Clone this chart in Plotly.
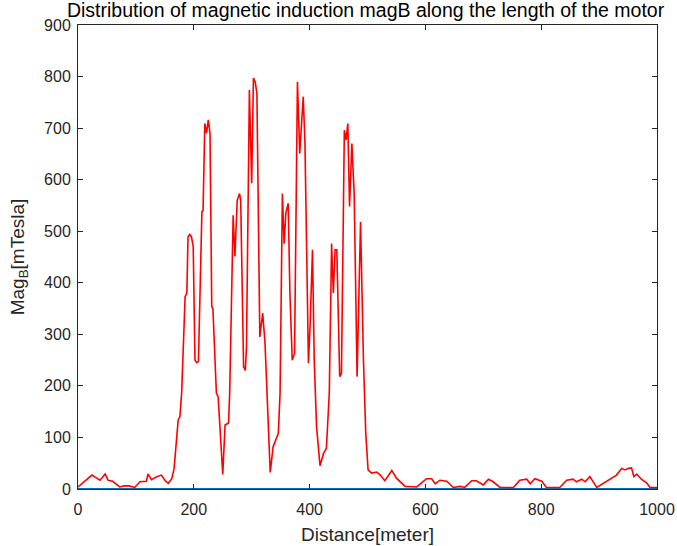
import plotly.graph_objects as go

# Red series: magnetic induction magnitude along the motor
distance = [0, 8, 16, 24, 31, 38, 47, 52, 60, 66, 72, 80, 88, 98, 107, 118, 121, 127, 136, 144,
            150, 156, 162, 166, 170, 173, 176, 179, 185, 188, 190, 193, 196, 199, 202, 205, 208,
            214, 216, 219, 222, 225, 228, 231, 233, 239, 242, 250, 254, 260, 262, 268, 271, 275,
            279, 281, 286, 289, 291, 296, 300, 303, 306, 309, 314, 319, 323, 328, 332, 337, 346,
            349, 353, 356, 359, 363, 366, 370, 374, 379, 383, 389, 392, 398, 401, 405, 408, 412,
            418, 424, 429, 434, 438, 441, 444, 447, 452, 455, 460, 463, 466, 469, 473, 477, 482,
            488, 493, 497, 501, 507, 516, 522, 530, 542, 550, 565, 585, 602, 611, 617, 625, 637,
            648, 660, 668, 680, 688, 700, 709, 717, 729, 752, 763, 775, 781, 789, 801, 809, 832,
            844, 855, 861, 870, 876, 884, 896, 907, 925, 930, 939, 945, 951, 956, 960, 965, 973,
            982, 988, 1000]
magB = [4, 12, 20, 27, 22, 17, 29, 17, 15, 10, 4, 6, 6, 3, 14, 15, 29, 18, 24, 27,
        17, 11, 20, 40, 100, 134, 140, 186, 373, 380, 489, 494, 489, 470, 250, 245, 247,
        538, 540, 709, 690, 716, 690, 354, 350, 186, 179, 28, 124, 128, 186, 531, 451, 560,
        573, 560, 237, 230, 276, 774, 593, 797, 790, 767, 295, 341, 283, 150, 32, 82, 108,
        186, 573, 476, 535, 554, 380, 250, 263, 790, 651, 761, 670, 244, 321, 464, 250, 121,
        45, 69, 79, 186, 476, 380, 464, 464, 218, 224, 696, 677, 709, 548, 670, 573, 218,
        518, 250, 108, 37, 31, 33, 27, 16, 36, 21, 5, 4, 20, 20, 10, 17, 15,
        3, 5, 3, 16, 16, 8, 19, 14, 3, 3, 17, 19, 10, 20, 15, 3, 3,
        17, 19, 14, 19, 14, 24, 3, 11, 24, 27, 40, 37, 40, 41, 24, 29, 19,
        12, 3, 3]

# Blue series: near-zero baseline
base_x = [0, 250, 500, 750, 1000]
base_y = [0, 0, 0, 0, 0]

x_ticks = [0, 200, 400, 600, 800, 1000]
y_ticks = [0, 100, 200, 300, 400, 500, 600, 700, 800, 900]

fig = go.Figure()
fig.add_trace(go.Scatter(x=base_x, y=base_y, mode="lines",
                         line=dict(color="#0072BD", width=2), showlegend=False))
fig.add_trace(go.Scatter(x=distance, y=magB, mode="lines",
                         line=dict(color="#FF0000", width=1.6), showlegend=False))

font_family = "Liberation Sans, Arial, sans-serif"
axis_common = dict(showline=True, linecolor="#262626", linewidth=1, mirror="ticks",
                   ticks="inside", ticklen=5, tickcolor="#262626", showgrid=False,
                   zeroline=False, automargin=False,
                   tickfont=dict(family=font_family, size=16, color="#262626"))

fig.update_layout(
    width=677, height=546,
    margin=dict(l=78, r=20, t=25, b=57),
    paper_bgcolor="white", plot_bgcolor="white",
    title=dict(text="Distribution of magnetic induction magB along the length of the motor",
               x=0.54, xanchor="center", y=0.981, yanchor="middle", yref="container",
               font=dict(family=font_family, size=19.5, color="#000000")),
    xaxis=dict(range=[0, 1000], tickvals=x_ticks, ticklabelstandoff=6,
               title=dict(text="Distance[meter]", standoff=10,
                          font=dict(family=font_family, size=19, color="#262626")),
               **axis_common),
    yaxis=dict(range=[0, 900], tickvals=y_ticks, ticklabelstandoff=3,
               title=dict(text="Mag<sub>B</sub>[mTesla]", standoff=14,
                          font=dict(family=font_family, size=19, color="#262626")),
               **axis_common),
)

fig.write_html("out.html")
